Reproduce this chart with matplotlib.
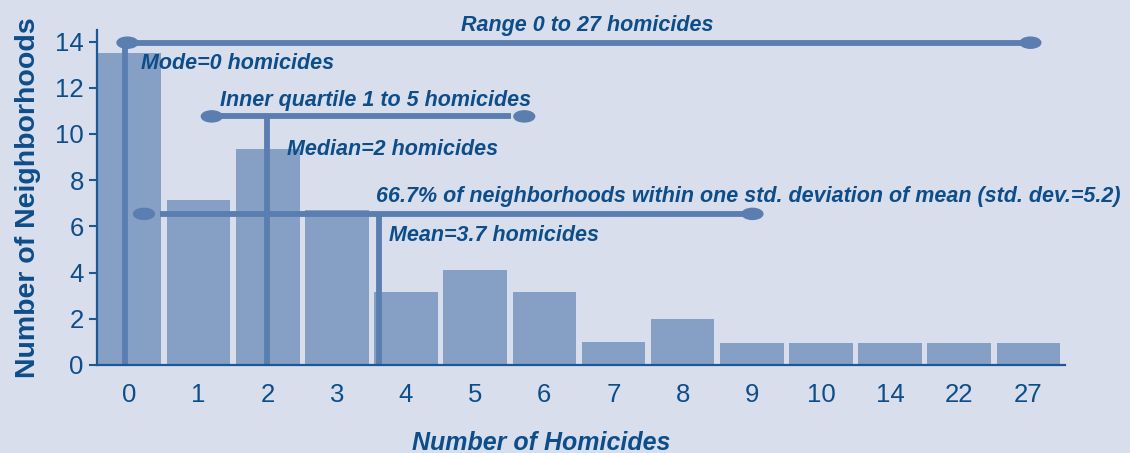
import matplotlib
matplotlib.use("Agg")
import matplotlib.pyplot as plt
from matplotlib.patches import Ellipse

# bar data
categories = ["0", "1", "2", "3", "4", "5", "6", "7", "8", "9", "10", "14", "22", "27"]
neighborhoods = [13.5, 7.15, 9.35, 6.7, 3.15, 4.1, 3.15, 1.0, 2.0, 0.95, 0.95, 0.95, 0.95, 0.95]

# summary stats drawn as annotation lines (x in bar-index units)
mode_x = -0.06
median_x = 1.99
mean_x = 3.61
range_span = (-0.03, 13.03)
range_y = 13.95
iqr_span = (1.19, 5.71)
iqr_y = 10.76
sd_span = (0.21, 9.01)
sd_y = 6.54

BG = "#d8deeb"
BAR = "#86a0c5"
LINE = "#5a7eb0"
TEXT = "#0d4d8a"
AXIS = "#1c5895"

ann_font = dict(family=["Liberation Sans", "DejaVu Sans"], fontsize=15.5,
                fontweight="bold", fontstyle="italic", color=TEXT)

fig = plt.figure(figsize=(11.3, 4.53), dpi=100, facecolor=BG)
ax = fig.add_axes([0.0858, 0.1943, 0.8567, 0.7395], facecolor=BG)

x = list(range(len(categories)))
ax.bar(x, neighborhoods, width=0.92, color=BAR, zorder=1)

ax.set_xlim(-0.47, 13.53)
ax.set_ylim(0, 14.5)
ax.set_xticks(x)
ax.set_xticklabels(categories)
ax.set_yticks(range(0, 15, 2))

for s in ["top", "right"]:
    ax.spines[s].set_visible(False)
for s in ["left", "bottom"]:
    ax.spines[s].set_color(AXIS)
    ax.spines[s].set_linewidth(1.6)

tick_font = ["Liberation Sans", "DejaVu Sans"]
ax.tick_params(axis="y", direction="out", length=6, width=1.5, color=AXIS, pad=3.5,
               labelsize=18.5, labelcolor=TEXT)
ax.tick_params(axis="x", length=0, pad=13, labelsize=18.5, labelcolor=TEXT)
for lab in ax.get_xticklabels() + ax.get_yticklabels():
    lab.set_family(tick_font)

ax.set_ylabel("Number of Neighborhoods", family=["Liberation Sans", "DejaVu Sans"],
              fontsize=20.5, fontweight="bold", color=TEXT, labelpad=10)
ax.set_xlabel("Number of Homicides", family=["Liberation Sans", "DejaVu Sans"],
              fontsize=18, fontweight="bold", fontstyle="italic", color=TEXT, labelpad=17)
ax.xaxis.label.set_x(0.459)  # title sits left of the axes centre in the original

lw = 4.2
ew, eh = 0.30, 0.48  # end-cap ellipse size in data units


def cap(xc, yc):
    ax.add_patch(Ellipse((xc, yc), ew, eh, color=LINE, zorder=3, clip_on=False))


# range line + mode
ax.plot(range_span, [range_y, range_y], color=LINE, lw=lw, solid_capstyle="butt", zorder=2)
cap(range_span[0], range_y)
cap(range_span[1], range_y)
ax.plot([mode_x, mode_x], [0, range_y], color=LINE, lw=lw, solid_capstyle="butt", zorder=2)

# inner quartile + median
ax.plot([iqr_span[0], iqr_span[1] - 0.19], [iqr_y, iqr_y], color=LINE, lw=lw,
        solid_capstyle="butt", zorder=2)
cap(iqr_span[0], iqr_y)
cap(iqr_span[1], iqr_y)
ax.plot([median_x, median_x], [0, iqr_y], color=LINE, lw=lw, solid_capstyle="butt", zorder=2)

# one std. deviation + mean
ax.plot([sd_span[0] + 0.23, sd_span[1]], [sd_y, sd_y], color=LINE, lw=lw,
        solid_capstyle="butt", zorder=2)
cap(sd_span[0], sd_y)
cap(sd_span[1], sd_y)
ax.plot([mean_x, mean_x], [0, sd_y], color=LINE, lw=lw, solid_capstyle="butt", zorder=2)

ax.text(6.62, 14.44, "Range 0 to 27 homicides", ha="center", va="baseline", clip_on=False, **ann_font)
ax.text(0.17, 12.82, "Mode=0 homicides", ha="left", va="baseline", **ann_font)
ax.text(1.31, 11.23, "Inner quartile 1 to 5 homicides", ha="left", va="baseline", **ann_font)
ax.text(2.28, 9.11, "Median=2 homicides", ha="left", va="baseline", **ann_font)
ax.text(3.57, 7.05, "66.7% of neighborhoods within one std. deviation of mean (std. dev.=5.2)",
        ha="left", va="baseline", clip_on=False, **ann_font)
ax.text(3.75, 5.38, "Mean=3.7 homicides", ha="left", va="baseline", **ann_font)

fig.savefig("out.png", dpi=100, facecolor=BG)
